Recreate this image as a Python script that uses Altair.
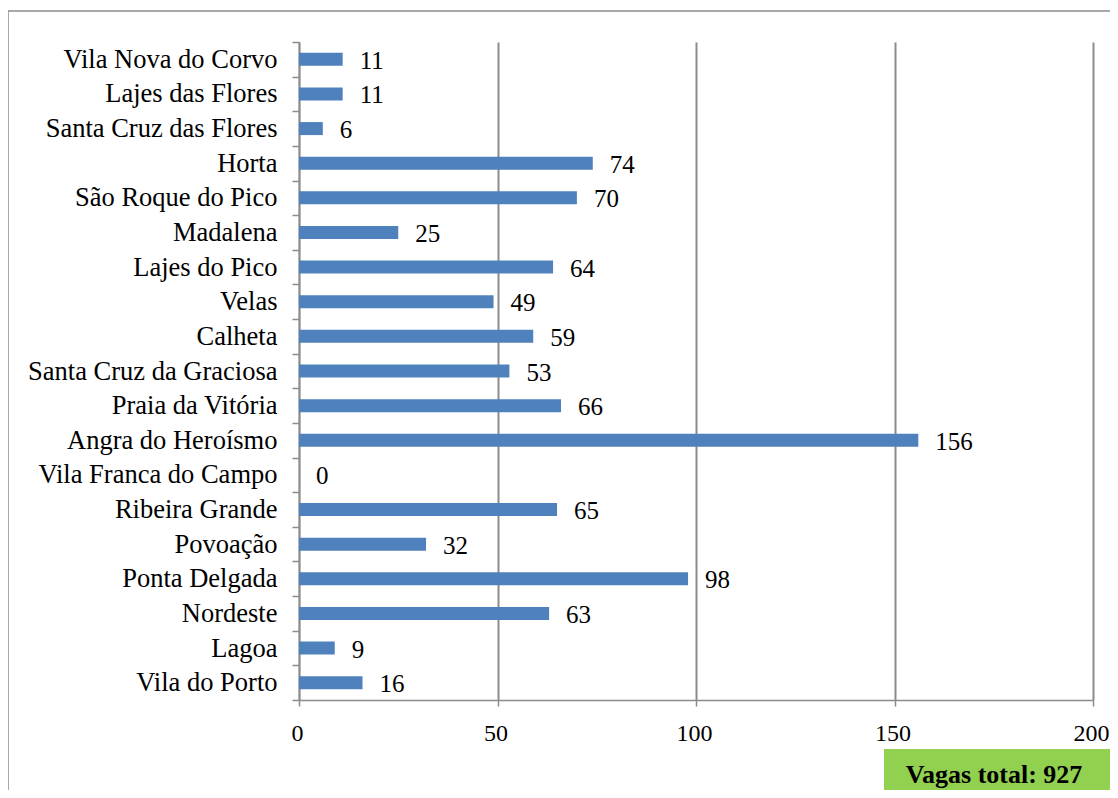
import altair as alt
import pandas as pd

municipios = [
    "Vila Nova do Corvo", "Lajes das Flores", "Santa Cruz das Flores", "Horta",
    "São Roque do Pico", "Madalena", "Lajes do Pico", "Velas", "Calheta",
    "Santa Cruz da Graciosa", "Praia da Vitória", "Angra do Heroísmo",
    "Vila Franca do Campo", "Ribeira Grande", "Povoação", "Ponta Delgada",
    "Nordeste", "Lagoa", "Vila do Porto",
]
vagas = [11, 11, 6, 74, 70, 25, 64, 49, 59, 53, 66, 156, 0, 65, 32, 98, 63, 9, 16]
x_ticks = [0, 50, 100, 150, 200]

df = pd.DataFrame({"municipio": municipios, "vagas": vagas})
total_df = pd.DataFrame({"t": [f"Vagas total: {sum(vagas)}"]})

FONT = "Times New Roman, Liberation Serif, serif"
GRAY = "#8c8c8c"
W, H = 794, 658

y_enc = alt.Y(
    "municipio:N", sort=None, title=None,
    scale=alt.Scale(paddingInner=0, paddingOuter=0),
    axis=alt.Axis(tickBand="extent", domainColor=GRAY, domainWidth=1.5,
                  tickColor=GRAY, tickWidth=1.5, tickSize=7, labelPadding=15,
                  labelFont=FONT, labelFontSize=26.5, labelColor="black", grid=False,
                  labelLimit=400, labelBaseline="alphabetic", labelOffset=8),
)
x_enc = alt.X(
    "vagas:Q", title=None,
    scale=alt.Scale(domain=[0, 200], nice=False),
    axis=alt.Axis(values=x_ticks, grid=True, gridColor=GRAY, gridWidth=2,
                  domainColor=GRAY, domainWidth=1.5, tickColor=GRAY, tickWidth=1.5,
                  tickSize=6, labelPadding=34, labelBaseline="alphabetic",
                  labelFont=FONT, labelFontSize=24, labelOffset=-2,
                  labelColor="black", labelFlush=False),
)

bars = alt.Chart(df).mark_bar(size=13, color="#4F81BD").encode(x=x_enc, y=y_enc)
labels = alt.Chart(df).mark_text(
    align="left", baseline="alphabetic", dx=17, dy=9.5, font=FONT, fontSize=25,
    color="black"
).encode(x="vagas:Q", y=alt.Y("municipio:N", sort=None), text="vagas:Q")

border = alt.Chart(total_df).mark_rect(
    fillOpacity=0, stroke=GRAY, strokeWidth=1.5
).encode(x=alt.value(-291), x2=alt.value(1300), y=alt.value(-31), y2=alt.value(1000))

green = alt.Chart(total_df).mark_rect(color="#92D050").encode(
    x=alt.value(585), x2=alt.value(900), y=alt.value(707), y2=alt.value(900)
)
total_text = alt.Chart(total_df).mark_text(
    font=FONT, fontSize=26, fontWeight="bold", color="black",
    align="center", baseline="alphabetic"
).encode(x=alt.value(695), y=alt.value(741), text="t:N")

chart = alt.layer(border, bars, labels, green, total_text).properties(
    width=W, height=H,
    autosize=alt.AutoSizeParams(type="none"),
    padding={"left": 291, "top": 34, "right": 17, "bottom": 90},
).configure_view(stroke=None)

chart.save("out.html", embed_options={"renderer": "svg", "actions": False})
